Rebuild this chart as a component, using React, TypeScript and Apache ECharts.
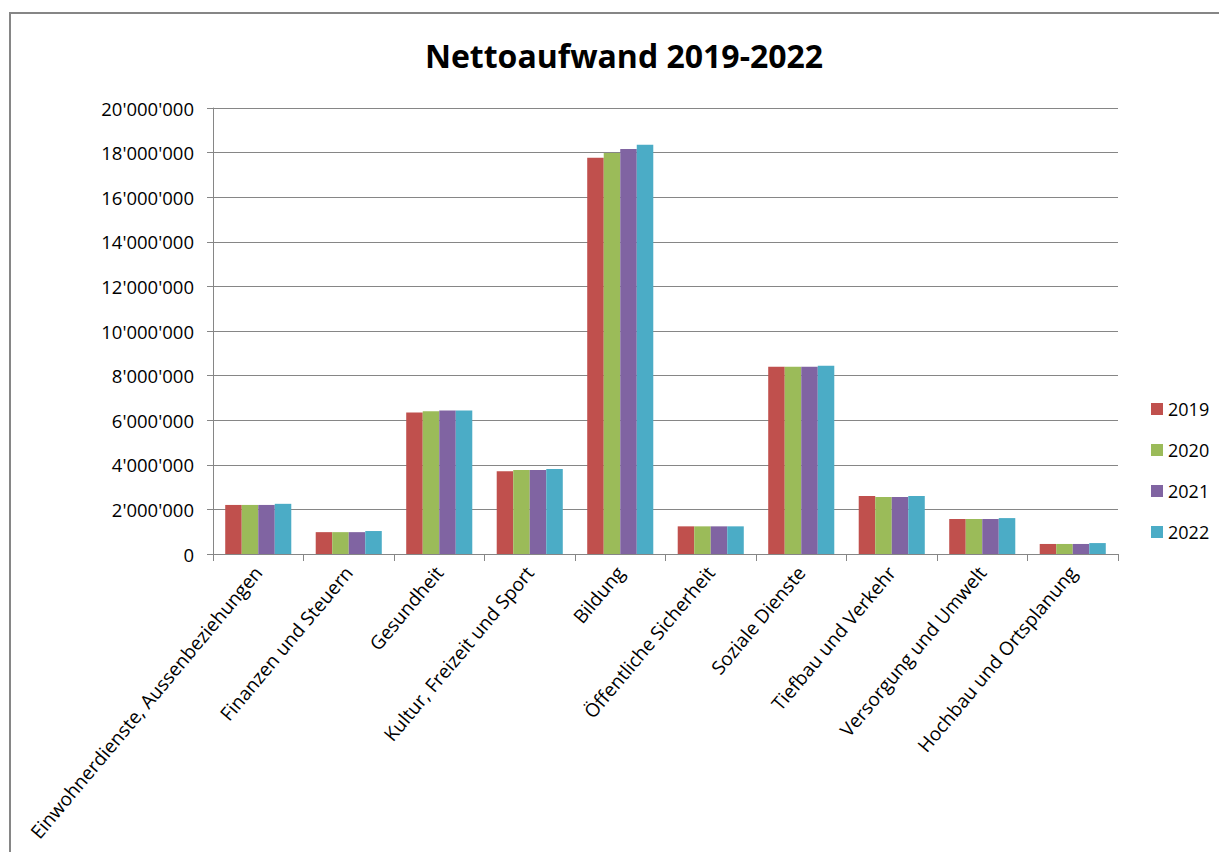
import React, { useEffect, useRef } from "react";
import * as echarts from "echarts";

const categories = [
  "Einwohnerdienste, Aussenbeziehungen",
  "Finanzen und Steuern",
  "Gesundheit",
  "Kultur, Freizeit und Sport",
  "Bildung",
  "Öffentliche Sicherheit",
  "Soziale Dienste",
  "Tiefbau und Verkehr",
  "Versorgung und Umwelt",
  "Hochbau und Ortsplanung",
];

const years = ["2019", "2020", "2021", "2022"];

const values2019 = [2200000, 980000, 6350000, 3710000, 17770000, 1240000, 8400000, 2600000, 1570000, 450000];
const values2020 = [2200000, 980000, 6400000, 3770000, 17980000, 1240000, 8400000, 2560000, 1570000, 450000];
const values2021 = [2200000, 980000, 6440000, 3770000, 18160000, 1240000, 8400000, 2560000, 1570000, 450000];
const values2022 = [2250000, 1030000, 6440000, 3810000, 18350000, 1240000, 8440000, 2600000, 1610000, 490000];

const seriesValues = [values2019, values2020, values2021, values2022];
const colors = ["#C0504D", "#9BBB59", "#8064A2", "#4BACC6"];

const FONT = "'Open Sans', sans-serif";

function fmt(v: number): string {
  return String(Math.round(v)).replace(/\B(?=(\d{3})+(?!\d))/g, "'");
}

export default function App() {
  const ref = useRef<HTMLDivElement>(null);
  useEffect(() => {
    if (!ref.current) return;
    const chart = echarts.init(ref.current, null, { renderer: "svg" });
    chart.setOption({
      animation: false,
      backgroundColor: "#ffffff",
      title: {
        text: "Nettoaufwand 2019-2022",
        left: 619,
        textAlign: "center",
        top: 34,
        textStyle: { fontFamily: FONT, fontSize: 32, fontWeight: "bold", color: "#000" },
      },
      graphic: [
        {
          type: "rect",
          shape: { x: 10, y: 13, width: 1400, height: 1000 },
          style: { fill: "none", stroke: "#868686", lineWidth: 2 },
          silent: true,
        },
      ],
      legend: {
        orient: "vertical",
        left: 1151,
        top: 400,
        padding: 0,
        itemWidth: 12,
        itemHeight: 12,
        itemGap: 23,
        icon: "rect",
        textStyle: { fontFamily: FONT, fontSize: 18, color: "#000" },
        data: years,
      },
      grid: { left: 213, right: 101, top: 108, bottom: 298 },
      xAxis: {
        type: "category",
        data: categories,
        axisLine: { lineStyle: { color: "#868686", width: 1 } },
        axisTick: { show: true, length: 7, alignWithLabel: false, lineStyle: { color: "#868686" } },
        axisLabel: {
          interval: 0,
          rotate: 50,
          margin: 15,
          fontFamily: FONT,
          fontSize: 19,
          color: "#000",
        },
      },
      yAxis: {
        type: "value",
        min: 0,
        max: 20000000,
        interval: 2000000,
        axisLine: { show: true, lineStyle: { color: "#868686", width: 1 } },
        axisTick: { show: true, length: 6, lineStyle: { color: "#868686" } },
        splitLine: { lineStyle: { color: "#868686", width: 1 } },
        axisLabel: {
          margin: 19,
          fontFamily: FONT,
          fontSize: 18.5,
          color: "#000",
          formatter: (v: number) => fmt(v),
        },
      },
      series: years.map((y, i) => ({
        name: y,
        type: "bar",
        data: seriesValues[i],
        barGap: "0%",
        barCategoryGap: "27%",
        itemStyle: { color: colors[i] },
      })),
    });
    return () => chart.dispose();
  }, []);
  return (
    <div
      ref={ref}
      style={{ position: "fixed", left: 0, top: 0, width: 1219, height: 852 }}
    />
  );
}
